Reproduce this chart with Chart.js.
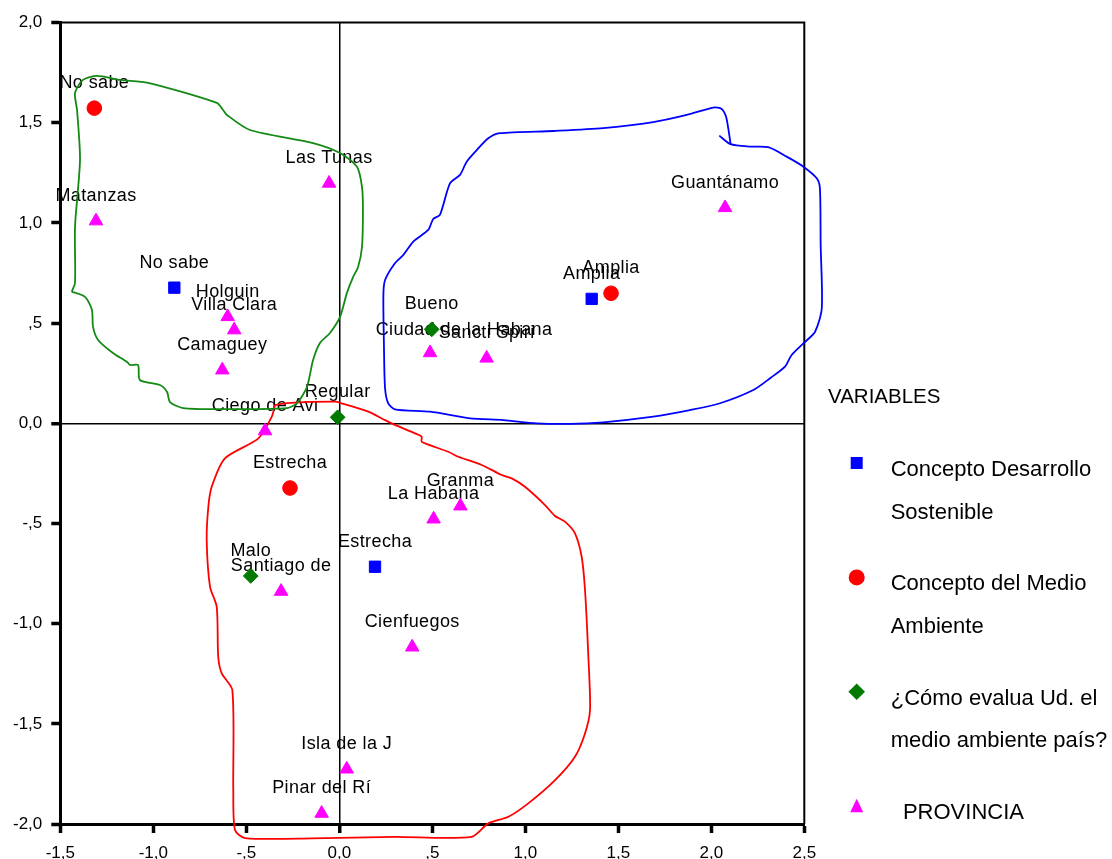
<!DOCTYPE html>
<html><head><meta charset="utf-8">
<script src="https://cdn.jsdelivr.net/npm/chart.js@4.4.1/dist/chart.umd.min.js"></script>
<style>html,body{margin:0;padding:0;background:#fff}#wrap{width:1112px;height:859px;position:relative}</style>
</head><body><div id="wrap"><canvas id="c"></canvas></div>
<script>
// ---- Tick labels ----
const xTickLabels = ['-1,5','-1,0','-,5','0,0',',5','1,0','1,5','2,0','2,5'];
const yTickLabels = ['-2,0','-1,5','-1,0','-,5','0,0',',5','1,0','1,5','2,0'];

// ---- Series names (legend) ----
const legendTitle = 'VARIABLES';
const seriesNames = ['Concepto Desarrollo\nSostenible', 'Concepto del Medio\nAmbiente', '¿Cómo evalua Ud. el\nmedio ambiente país?', '  PROVINCIA'];

// ---- Concepto Desarrollo Sostenible ----
const devCats = ['No sabe', 'Amplia', 'Estrecha'];
const devX = [-0.887, 1.357, 0.192];
const devY = [0.677, 0.621, -0.716];

// ---- Concepto del Medio Ambiente ----
const envCats = ['No sabe', 'Amplia', 'Estrecha'];
const envX = [-1.317, 1.461, -0.265];
const envY = [1.573, 0.649, -0.323];

// ---- ¿Cómo evalua Ud. el medio ambiente país? ----
const evalCats = ['Bueno', 'Regular', 'Malo'];
const evalX = [0.497, -0.009, -0.476];
const evalY = [0.469, 0.030, -0.762];

// ---- PROVINCIA ----
const provCats = ['Matanzas','Las Tunas','Holguin','Villa Clara','Camaguey','Ciego de Avi','Ciudad de la Habana','Sancti Spiri','Guantánamo','Granma','La Habana','Santiago de','Cienfuegos','Isla de la J','Pinar del Rí'];
const provX = [-1.308,-0.055,-0.600,-0.565,-0.629,-0.399,0.488,0.792,2.074,0.651,0.507,-0.313,0.392,0.040,-0.095];
const provY = [1.010,1.198,0.532,0.466,0.266,-0.038,0.352,0.325,1.076,-0.413,-0.478,-0.839,-1.117,-1.726,-1.947];

// ---- Hand-drawn enclosing curves ----
const greenCurveX = [-1.439,-1.421,-1.421,-1.394,-1.410,-1.421,-1.378,-1.303,-1.179,-1.028,-0.658,-0.625,-0.604,-0.480,-0.141,0.004,0.095,0.122,0.127,0.122,0.101,0.074,0.041,0.004,-0.050,-0.104,-0.141,-0.174,-0.227,-0.281,-0.604,-0.840,-0.910,-0.926,-0.964,-1.072,-1.082,-1.125,-1.141,-1.217,-1.297,-1.324,-1.330,-1.367,-1.439];
const greenCurveY = [0.657,0.700,0.980,1.315,1.564,1.649,1.714,1.734,1.714,1.699,1.599,1.564,1.539,1.464,1.399,1.349,1.280,1.180,1.065,0.880,0.780,0.730,0.651,0.531,0.451,0.401,0.316,0.181,0.101,0.076,0.071,0.076,0.106,0.156,0.191,0.216,0.291,0.291,0.306,0.351,0.416,0.481,0.566,0.631,0.657];

const blueCurveX = [2.043,2.104,2.208,2.306,2.405,2.495,2.567,2.584,2.588,2.594,2.558,2.495,2.432,2.396,2.316,2.226,2.047,1.885,1.688,1.419,1.240,1.061,0.882,0.703,0.488,0.299,0.263,0.246,0.240,0.237,0.246,0.299,0.344,0.398,0.478,0.505,0.541,0.595,0.649,0.685,0.739,0.801,0.864,1.151,1.419,1.688,1.868,2.011,2.056,2.079,2.091,2.104];
const blueCurveY = [1.436,1.393,1.381,1.378,1.331,1.281,1.223,1.173,0.890,0.574,0.457,0.399,0.341,0.283,0.225,0.166,0.100,0.066,0.033,0.005,-0.003,0.000,0.016,0.025,0.058,0.070,0.100,0.175,0.391,0.641,0.715,0.799,0.840,0.907,0.965,1.020,1.040,1.198,1.240,1.306,1.364,1.423,1.448,1.459,1.473,1.503,1.539,1.576,1.569,1.531,1.473,1.393];

const redCurveX = [-0.346,-0.283,-0.023,0.013,0.156,0.246,0.299,0.407,0.443,0.443,0.586,0.640,0.766,0.873,0.927,0.998,1.106,1.160,1.213,1.267,1.303,1.321,1.339,1.348,1.321,1.267,1.160,1.016,0.909,0.801,0.712,0.299,-0.148,-0.507,-0.561,-0.570,-0.575,-0.632,-0.651,-0.659,-0.695,-0.713,-0.704,-0.686,-0.615,-0.435,-0.363,-0.346];
const redCurveY = [0.091,0.101,0.108,0.100,0.058,0.016,-0.008,-0.050,-0.067,-0.092,-0.142,-0.167,-0.208,-0.258,-0.275,-0.317,-0.408,-0.463,-0.491,-0.549,-0.666,-0.832,-1.165,-1.431,-1.548,-1.664,-1.781,-1.897,-1.964,-1.997,-2.064,-2.064,-2.072,-2.070,-2.030,-1.831,-1.332,-1.248,-1.165,-0.916,-0.816,-0.583,-0.416,-0.317,-0.175,-0.075,0.033,0.091];

// ---------------------------------------------------------------
const FONT = '"Liberation Sans", Arial, sans-serif';
const BLUE = '#0000FF', RED = '#FF0000', GREEN = '#007A00', MAGENTA = '#FF00FF';
const zip = (xs, ys) => xs.map((x, i) => ({x: x, y: ys[i]}));
const labelNudge = {'Ciudad de la Habana': [34, 2]};

function curve(xs, ys, color) {
  return { data: zip(xs, ys), showLine: true, borderColor: color, borderWidth: 1.8,
    pointRadius: 0, tension: 0.25, fill: false, clip: false, order: 5 };
}
function pts(name, xs, ys, names, style, color, r) {
  return { label: name, data: zip(xs, ys), pointNames: names, showLine: false,
    pointStyle: style, pointRadius: r, backgroundColor: color, borderColor: color,
    pointBorderWidth: 1, order: 0 };
}

const pointLabelPlugin = {
  id: 'pointLabels',
  beforeDatasetsDraw(chart) {
    const ctx = chart.ctx;
    ctx.save();
    ctx.font = '18px ' + FONT;
    ctx.letterSpacing = '0.4px';
    ctx.fillStyle = '#000';
    ctx.textAlign = 'center';
    ctx.textBaseline = 'alphabetic';
    chart.data.datasets.forEach((ds, i) => {
      if (!ds.pointNames) return;
      chart.getDatasetMeta(i).data.forEach((pt, j) => {
        const name = ds.pointNames[j];
        const n = labelNudge[name] || [0, 0];
        ctx.fillText(name, pt.x + n[0], pt.y - 20 + n[1]);
      });
    });
    ctx.restore();
  }
};

const framePlugin = {
  id: 'frame',
  beforeDatasetsDraw(chart) {
    const {ctx, chartArea: a} = chart;
    ctx.save();
    ctx.strokeStyle = '#000';
    ctx.lineWidth = 2;
    ctx.beginPath();
    ctx.moveTo(a.left, a.top);
    ctx.lineTo(a.right, a.top);
    ctx.lineTo(a.right, a.bottom);
    ctx.stroke();
    ctx.restore();
  }
};

function drawMarker(ctx, style, x, y, color) {
  ctx.fillStyle = color;
  ctx.beginPath();
  if (style === 'rect') ctx.rect(x - 6, y - 6, 12, 12);
  else if (style === 'circle') ctx.arc(x, y, 8, 0, Math.PI * 2);
  else if (style === 'rectRot') { ctx.moveTo(x - 8.3, y); ctx.lineTo(x, y - 8.3); ctx.lineTo(x + 8.3, y); ctx.lineTo(x, y + 8.3); ctx.closePath(); }
  else { ctx.moveTo(x, y - 7.5); ctx.lineTo(x + 6.5, y + 6); ctx.lineTo(x - 6.5, y + 6); ctx.closePath(); }
  ctx.fill();
}

const legendPlugin = {
  id: 'customLegend',
  afterDraw(chart) {
    const ctx = chart.ctx;
    ctx.save();
    ctx.fillStyle = '#000';
    ctx.textAlign = 'left';
    ctx.textBaseline = 'alphabetic';
    ctx.font = '20.5px ' + FONT;
    ctx.fillText(legendTitle, 828, 403);
    const items = chart.data.datasets.filter(d => d.pointNames);
    ctx.font = '22px ' + FONT;
    items.forEach((ds, k) => {
      const base = 476 + k * 114.4;
      drawMarker(ctx, ds.pointStyle, 856.7, base - 13, ds.backgroundColor);
      ctx.fillStyle = '#000';
      ds.label.split('\n').forEach((line, li) => ctx.fillText(line, 890.7, base + li * 42.5));
    });
    ctx.restore();
  }
};

const gridOpts = {
  drawOnChartArea: true,
  color: c => (c.tick && c.tick.value === 0) ? '#000' : 'rgba(0,0,0,0)',
  lineWidth: c => (c.tick && c.tick.value === 0) ? 1.5 : 1,
  tickLength: 9, tickWidth: 3.5, tickColor: '#000'
};

new Chart(document.getElementById('c'), {
  type: 'scatter',
  data: {
    datasets: [
      pts(seriesNames[0], devX, devY, devCats, 'rect', BLUE, 8),
      pts(seriesNames[1], envX, envY, envCats, 'circle', RED, 7.3),
      pts(seriesNames[2], evalX, evalY, evalCats, 'rectRot', GREEN, 7.4),
      pts(seriesNames[3], provX, provY, provCats, 'triangle', MAGENTA, 7.8),
      curve(greenCurveX, greenCurveY, '#138A13'),
      curve(blueCurveX, blueCurveY, BLUE),
      curve(redCurveX, redCurveY, RED)
    ]
  },
  options: {
    responsive: true, maintainAspectRatio: false, animation: false, events: [],
    layout: { padding: { top: 22.6, right: 307.7, left: 0, bottom: 0 } },
    plugins: { legend: { display: false }, tooltip: { enabled: false } },
    scales: {
      x: {
        type: 'linear', min: -1.5, max: 2.5,
        ticks: { stepSize: 0.5, autoSkip: false, maxRotation: 0, padding: 10, color: '#000',
                 font: { family: FONT, size: 17 }, callback: (v, i) => xTickLabels[i] },
        grid: gridOpts,
        border: { display: true, color: '#000', width: 3 },
        afterFit(s) { s.height = 35; }
      },
      y: {
        type: 'linear', min: -2, max: 2,
        ticks: { stepSize: 0.5, autoSkip: false, padding: 9, color: '#000',
                 font: { family: FONT, size: 17 }, callback: (v, i) => yTickLabels[i] },
        grid: gridOpts,
        border: { display: true, color: '#000', width: 3 },
        afterFit(s) { s.width = 60.3; }
      }
    }
  },
  plugins: [framePlugin, pointLabelPlugin, legendPlugin]
});
</script></body></html>
